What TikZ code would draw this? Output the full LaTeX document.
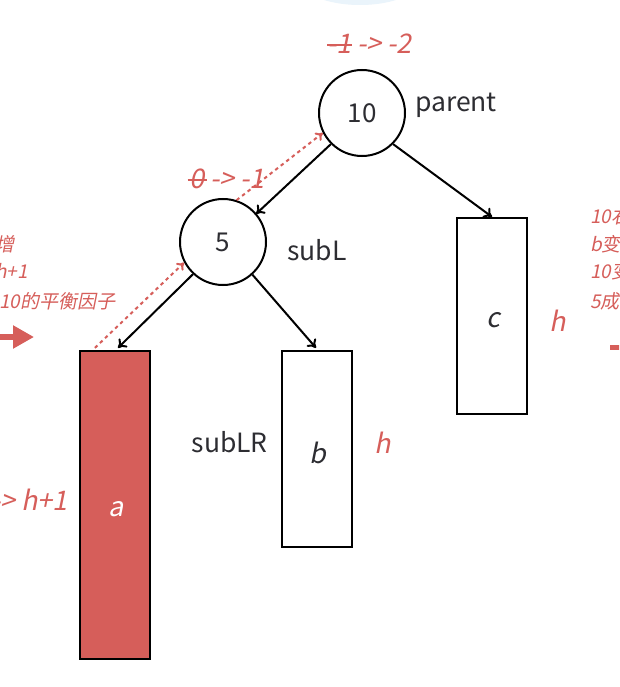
\documentclass[tikz,border=0pt]{standalone}
\usepackage{fontspec}
\setmainfont{Noto Sans CJK SC}[AutoFakeSlant=0.2]
\usetikzlibrary{arrows.meta,calc}
\definecolor{redc}{RGB}{214,94,90}
\definecolor{ink}{RGB}{45,45,50}
\definecolor{faintblue}{RGB}{234,244,251}
\tikzset{
  treenode/.style={circle,draw=black,line width=2pt,minimum size=86pt,inner sep=0pt,text=ink,font=\fontsize{26}{30}\selectfont},
  subtree/.style={rectangle,draw=black,line width=2.2pt,minimum width=70pt,inner sep=0pt,text=ink,font=\fontsize{27}{30}\selectfont\itshape},
  lbl/.style={text=ink,font=\fontsize{26.5}{30}\selectfont,inner sep=0pt},
  hlbl/.style={text=redc,font=\fontsize{27}{30}\selectfont\itshape,inner sep=0pt},
  bf/.style={text=redc,font=\fontsize{27}{30}\selectfont\itshape,inner sep=0pt},
  note/.style={text=redc,font=\fontsize{19}{22}\selectfont\itshape,inner sep=0pt},
  edge/.style={-{To[length=8pt,width=12pt]},line width=2pt,black},
  backedge/.style={-{To[length=7pt,width=10pt]},line width=2pt,redc,dash pattern=on 3.5pt off 3.5pt},
}
\begin{document}
\begin{tikzpicture}[x=1pt,y=-1pt]
\useasboundingbox (0,0) rectangle (619,687);
\clip (0,0) rectangle (619,687);
\fill[white] (0,0) rectangle (619,687);
\fill[faintblue] (360,-22) ellipse [x radius=62pt, y radius=27pt];
% tree nodes
\node[treenode] (p) at (362,113) {10};
\node[treenode] (s) at (223,242) {5};
\node[subtree,minimum height=308pt,fill=redc] (a) at (115,505) {};
\node[subtree,minimum height=196pt] (b) at (317,449) {};
\node[subtree,minimum height=196pt] (c) at (492,316) {};
\node[subtree,draw=none,text=white] (ta) at (116,509) {a};
\node[subtree,draw=none] (tb) at (318,453) {b};
\node[subtree,draw=none] (tc) at (493,320) {c};
% labels
\node[lbl,anchor=west] (lp) at (415,105) {parent};
\node[lbl,anchor=west] (ls) at (287,250) {subL};
\node[lbl,anchor=east] (llr) at (268,442) {subLR};
\node[hlbl] (hb) at (383,443) {h};
\node[hlbl] (hc) at (558,321) {h};
% balance factors
\node[bf,anchor=east] (old1) at (352,44) {-1};
\node[bf,anchor=west] (new1) at (357,44) {-> -2};
\draw[redc,line width=1.5pt] ($(old1.west)+(0,1)$) -- ($(old1.east)+(0,1)$);
\node[bf,anchor=east] (old2) at (205,179) {0};
\node[bf,anchor=west] (new2) at (210,179) {-> -1};
\draw[redc,line width=1.5pt] ($(old2.west)+(-2,1)$) -- ($(old2.east)+(2,1)$);
% edges
\draw[edge] (p.-135) -- ($(s.north east)+(2,3)$);
\draw[edge] (p.-45) -- (c.north);
\draw[edge] (s.-133) -- ($(a.north)+(3,-2)$);
\draw[edge] (s.-48) -- ($(b.north)+(-1,-2)$);
% dashed back edges
\coordinate (aa) at ($(a.north west)+(16,-2)$);
\draw[backedge] (aa) -- (s.208);
\draw[backedge] (s.72) -- (p.207);
% left clipped notes
\node[note,anchor=east] (n1) at (15,244) {增};
\node[note,anchor=east] (n2) at (28,271) {h+1};
\node[note,anchor=west] (n3) at (-1,301) {10的平衡因子};
\node[bf,anchor=east] (n4) at (68,500) {-> h+1};
\coordinate (la0) at (-5,337);
\coordinate (la1) at (34,337);
\draw[redc,line width=6pt,-{Triangle[length=21pt,width=22pt]}] (la0) -- (la1);
% right clipped notes
\node[note,anchor=west] (r1) at (590,216) {10右};
\node[note,anchor=west] (r2) at (590,244) {b变};
\node[note,anchor=west] (r3) at (590,271) {10变};
\node[note,anchor=west] (r4) at (590,301) {5成};
\coordinate (ra0) at (610,347);
\coordinate (ra1) at (630,347);
\draw[redc,line width=5pt] (ra0) -- (ra1);
\end{tikzpicture}
\end{document}
